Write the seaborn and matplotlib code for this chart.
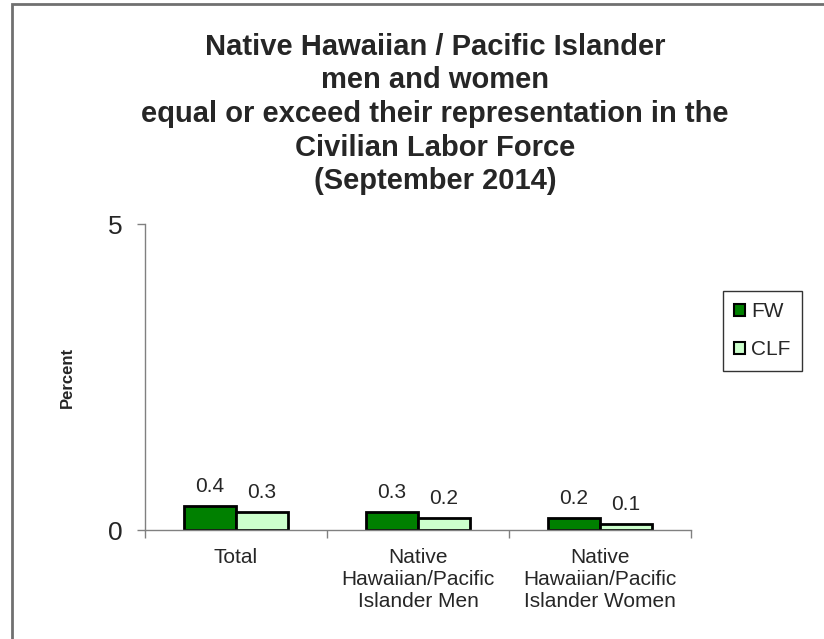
import matplotlib
matplotlib.use("Agg")
import matplotlib.pyplot as plt
from matplotlib.patches import Patch, Rectangle
import pandas as pd
import seaborn as sns

# Chart data
groups = ["Total",
          "Native\nHawaiian/Pacific\nIslander Men",
          "Native\nHawaiian/Pacific\nIslander Women"]
fw_values = [0.4, 0.3, 0.2]
clf_values = [0.3, 0.2, 0.1]
series_names = ["FW", "CLF"]
series_colors = ["#008000", "#CCFFCC"]
y_ticks = [0, 5]

title_text = ("Native Hawaiian / Pacific Islander\n"
              "men and women\n"
              "equal or exceed their representation in the\n"
              "Civilian Labor Force\n"
              "(September 2014)")

df = pd.DataFrame({
    "group": groups * 2,
    "percent": fw_values + clf_values,
    "series": [series_names[0]] * len(groups) + [series_names[1]] * len(groups),
})

sns.set_style("white")
plt.rcParams["font.family"] = ["Liberation Sans", "DejaVu Sans"]

W, H = 824, 639
fig = plt.figure(figsize=(W / 100, H / 100), dpi=100)
fig.patch.set_facecolor("white")

# outer chart frame (runs off the right and bottom edges)
fig.add_artist(Rectangle((12 / W, -0.2), 1.5, 1.2 - 4 / H,
                         transform=fig.transFigure, fill=False,
                         edgecolor="#707070", linewidth=2))

ax = fig.add_axes([145 / W, (H - 530) / H, 546 / W, 306 / H])

sns.barplot(data=df, x="group", y="percent", hue="series",
            palette=series_colors, saturation=1, width=0.57,
            edgecolor="black", linewidth=2, legend=False, ax=ax)

for cont in ax.containers:
    ax.bar_label(cont, fmt="%.1f", padding=7, fontsize=15)

ax.set_ylim(0, 5)
ax.set_xlim(-0.5, len(groups) - 0.5)
ax.set_yticks(y_ticks)
ax.set_yticklabels([str(t) for t in y_ticks], fontsize=19)
ax.tick_params(axis="y", direction="out", length=6, width=1,
               color="#808080", pad=10, left=True)
ax.set_xticks(range(len(groups)))
ax.set_xticklabels(groups, fontsize=15, linespacing=1.2)
ax.tick_params(axis="x", which="major", length=0, pad=13)
ax.set_xticks([i - 0.5 for i in range(len(groups) + 1)], minor=True)
ax.tick_params(axis="x", which="minor", direction="out", length=6,
               width=1, color="#808080", bottom=True)

for side in ["top", "right"]:
    ax.spines[side].set_visible(False)
for side in ["left", "bottom"]:
    ax.spines[side].set_color("#808080")
    ax.spines[side].set_linewidth(1)

ax.set_xlabel("")
ax.set_ylabel("Percent", fontsize=12, fontweight="bold")
ax.yaxis.set_label_coords(-0.128, 0.5)

handles = [Patch(facecolor=c, edgecolor="black", linewidth=1.5)
           for c in series_colors]
leg = fig.legend(handles, series_names, loc="upper left",
                 bbox_to_anchor=(723 / W, (H - 291) / H),
                 fontsize=15, frameon=True, fancybox=False,
                 handlelength=0.5, handleheight=0.5, handletextpad=0.3,
                 labelspacing=0.9, borderpad=0.55, borderaxespad=0)
leg.get_frame().set_edgecolor("black")
leg.get_frame().set_linewidth(1)

fig.text(435 / W, (H - 114) / H, title_text, ha="center", va="center",
         fontsize=21, fontweight="bold", linespacing=1.25)

fig.savefig("out.png", dpi=100)
